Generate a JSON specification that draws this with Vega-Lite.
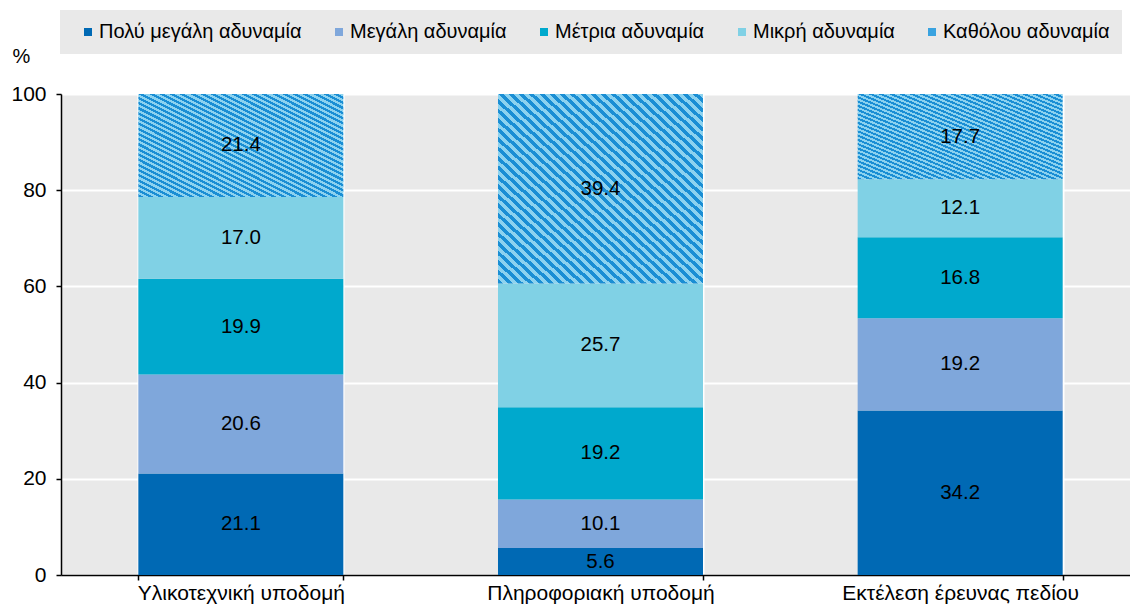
{
  "$schema": "https://vega.github.io/schema/vega-lite/v6.json",
  "autosize": "none",
  "width": 1069,
  "height": 481,
  "padding": {"left": 61, "top": 94, "right": 0, "bottom": 31},
  "background": "white",
  "config": {
    "font": "Liberation Sans",
    "view": {"fill": "#e9e9e9", "stroke": null},
    "axis": {"labelFont": "Liberation Sans", "titleFont": "Liberation Sans", "labelFontSize": 21, "labelColor": "black", "titleColor": "black", "titleFontWeight": "normal", "titleFontSize": 20},
    "legend": {"labelFont": "Liberation Sans", "labelFontSize": 20, "labelColor": "black"}
  },
  "data": {
    "values": [
      {"cat": "Υλικοτεχνική υποδομή", "level": "Πολύ μεγάλη αδυναμία", "k": 1, "value": 21.1},
      {"cat": "Υλικοτεχνική υποδομή", "level": "Μεγάλη αδυναμία", "k": 2, "value": 20.6},
      {"cat": "Υλικοτεχνική υποδομή", "level": "Μέτρια αδυναμία", "k": 3, "value": 19.9},
      {"cat": "Υλικοτεχνική υποδομή", "level": "Μικρή αδυναμία", "k": 4, "value": 17.0},
      {"cat": "Υλικοτεχνική υποδομή", "level": "Καθόλου αδυναμία", "k": 5, "value": 21.4},
      {"cat": "Πληροφοριακή υποδομή", "level": "Πολύ μεγάλη αδυναμία", "k": 1, "value": 5.6},
      {"cat": "Πληροφοριακή υποδομή", "level": "Μεγάλη αδυναμία", "k": 2, "value": 10.1},
      {"cat": "Πληροφοριακή υποδομή", "level": "Μέτρια αδυναμία", "k": 3, "value": 19.2},
      {"cat": "Πληροφοριακή υποδομή", "level": "Μικρή αδυναμία", "k": 4, "value": 25.7},
      {"cat": "Πληροφοριακή υποδομή", "level": "Καθόλου αδυναμία", "k": 5, "value": 39.4},
      {"cat": "Εκτέλεση έρευνας πεδίου", "level": "Πολύ μεγάλη αδυναμία", "k": 1, "value": 34.2},
      {"cat": "Εκτέλεση έρευνας πεδίου", "level": "Μεγάλη αδυναμία", "k": 2, "value": 19.2},
      {"cat": "Εκτέλεση έρευνας πεδίου", "level": "Μέτρια αδυναμία", "k": 3, "value": 16.8},
      {"cat": "Εκτέλεση έρευνας πεδίου", "level": "Μικρή αδυναμία", "k": 4, "value": 12.1},
      {"cat": "Εκτέλεση έρευνας πεδίου", "level": "Καθόλου αδυναμία", "k": 5, "value": 17.7}
    ]
  },
  "encoding": {
    "x": {
      "field": "cat", "type": "nominal", "sort": null,
      "scale": {"range": [0, 1079], "paddingInner": 0.43, "paddingOuter": 0.215},
      "axis": {"title": null, "labelAngle": 0, "labelLimit": 0, "tickBand": "extent", "grid": true, "gridColor": "white", "gridWidth": 2, "domainColor": "black", "domainWidth": 1.5, "tickColor": "black", "tickWidth": 1.5, "tickSize": 5, "labelPadding": 2}
    },
    "y": {
      "field": "value", "type": "quantitative", "stack": "zero",
      "scale": {"domain": [0, 100], "nice": false},
      "axis": {"values": [0, 20, 40, 60, 80, 100], "title": "%", "titleAngle": 0, "titleX": -49, "titleY": -32, "titleAlign": "left", "titleBaseline": "alphabetic", "grid": true, "gridColor": "white", "gridWidth": 2, "domainColor": "black", "domainWidth": 1.5, "tickColor": "black", "tickWidth": 1.5, "tickSize": 5, "labelPadding": 10}
    },
    "order": {"field": "k", "type": "quantitative"}
  },
  "layer": [
    {
      "mark": {"type": "bar"},
      "encoding": {
        "color": {
          "condition": {"test": "datum.level === 'Καθόλου αδυναμία'", "value": {"gradient": "linear", "x1": 0, "y1": 1, "x2": 1, "y2": 0, "stops": [
              {"offset": 0, "color": "#1a8ed4"}, {"offset": 0.0125, "color": "#1a8ed4"}, {"offset": 0.0125, "color": "#8cd2ef"}, {"offset": 0.025, "color": "#8cd2ef"},
              {"offset": 0.025, "color": "#1a8ed4"}, {"offset": 0.0375, "color": "#1a8ed4"}, {"offset": 0.0375, "color": "#8cd2ef"}, {"offset": 0.05, "color": "#8cd2ef"},
              {"offset": 0.05, "color": "#1a8ed4"}, {"offset": 0.0625, "color": "#1a8ed4"}, {"offset": 0.0625, "color": "#8cd2ef"}, {"offset": 0.075, "color": "#8cd2ef"},
              {"offset": 0.075, "color": "#1a8ed4"}, {"offset": 0.0875, "color": "#1a8ed4"}, {"offset": 0.0875, "color": "#8cd2ef"}, {"offset": 0.1, "color": "#8cd2ef"},
              {"offset": 0.1, "color": "#1a8ed4"}, {"offset": 0.1125, "color": "#1a8ed4"}, {"offset": 0.1125, "color": "#8cd2ef"}, {"offset": 0.125, "color": "#8cd2ef"},
              {"offset": 0.125, "color": "#1a8ed4"}, {"offset": 0.1375, "color": "#1a8ed4"}, {"offset": 0.1375, "color": "#8cd2ef"}, {"offset": 0.15, "color": "#8cd2ef"},
              {"offset": 0.15, "color": "#1a8ed4"}, {"offset": 0.1625, "color": "#1a8ed4"}, {"offset": 0.1625, "color": "#8cd2ef"}, {"offset": 0.175, "color": "#8cd2ef"},
              {"offset": 0.175, "color": "#1a8ed4"}, {"offset": 0.1875, "color": "#1a8ed4"}, {"offset": 0.1875, "color": "#8cd2ef"}, {"offset": 0.2, "color": "#8cd2ef"},
              {"offset": 0.2, "color": "#1a8ed4"}, {"offset": 0.2125, "color": "#1a8ed4"}, {"offset": 0.2125, "color": "#8cd2ef"}, {"offset": 0.225, "color": "#8cd2ef"},
              {"offset": 0.225, "color": "#1a8ed4"}, {"offset": 0.2375, "color": "#1a8ed4"}, {"offset": 0.2375, "color": "#8cd2ef"}, {"offset": 0.25, "color": "#8cd2ef"},
              {"offset": 0.25, "color": "#1a8ed4"}, {"offset": 0.2625, "color": "#1a8ed4"}, {"offset": 0.2625, "color": "#8cd2ef"}, {"offset": 0.275, "color": "#8cd2ef"},
              {"offset": 0.275, "color": "#1a8ed4"}, {"offset": 0.2875, "color": "#1a8ed4"}, {"offset": 0.2875, "color": "#8cd2ef"}, {"offset": 0.3, "color": "#8cd2ef"},
              {"offset": 0.3, "color": "#1a8ed4"}, {"offset": 0.3125, "color": "#1a8ed4"}, {"offset": 0.3125, "color": "#8cd2ef"}, {"offset": 0.325, "color": "#8cd2ef"},
              {"offset": 0.325, "color": "#1a8ed4"}, {"offset": 0.3375, "color": "#1a8ed4"}, {"offset": 0.3375, "color": "#8cd2ef"}, {"offset": 0.35, "color": "#8cd2ef"},
              {"offset": 0.35, "color": "#1a8ed4"}, {"offset": 0.3625, "color": "#1a8ed4"}, {"offset": 0.3625, "color": "#8cd2ef"}, {"offset": 0.375, "color": "#8cd2ef"},
              {"offset": 0.375, "color": "#1a8ed4"}, {"offset": 0.3875, "color": "#1a8ed4"}, {"offset": 0.3875, "color": "#8cd2ef"}, {"offset": 0.4, "color": "#8cd2ef"},
              {"offset": 0.4, "color": "#1a8ed4"}, {"offset": 0.4125, "color": "#1a8ed4"}, {"offset": 0.4125, "color": "#8cd2ef"}, {"offset": 0.425, "color": "#8cd2ef"},
              {"offset": 0.425, "color": "#1a8ed4"}, {"offset": 0.4375, "color": "#1a8ed4"}, {"offset": 0.4375, "color": "#8cd2ef"}, {"offset": 0.45, "color": "#8cd2ef"},
              {"offset": 0.45, "color": "#1a8ed4"}, {"offset": 0.4625, "color": "#1a8ed4"}, {"offset": 0.4625, "color": "#8cd2ef"}, {"offset": 0.475, "color": "#8cd2ef"},
              {"offset": 0.475, "color": "#1a8ed4"}, {"offset": 0.4875, "color": "#1a8ed4"}, {"offset": 0.4875, "color": "#8cd2ef"}, {"offset": 0.5, "color": "#8cd2ef"},
              {"offset": 0.5, "color": "#1a8ed4"}, {"offset": 0.5125, "color": "#1a8ed4"}, {"offset": 0.5125, "color": "#8cd2ef"}, {"offset": 0.525, "color": "#8cd2ef"},
              {"offset": 0.525, "color": "#1a8ed4"}, {"offset": 0.5375, "color": "#1a8ed4"}, {"offset": 0.5375, "color": "#8cd2ef"}, {"offset": 0.55, "color": "#8cd2ef"},
              {"offset": 0.55, "color": "#1a8ed4"}, {"offset": 0.5625, "color": "#1a8ed4"}, {"offset": 0.5625, "color": "#8cd2ef"}, {"offset": 0.575, "color": "#8cd2ef"},
              {"offset": 0.575, "color": "#1a8ed4"}, {"offset": 0.5875, "color": "#1a8ed4"}, {"offset": 0.5875, "color": "#8cd2ef"}, {"offset": 0.6, "color": "#8cd2ef"},
              {"offset": 0.6, "color": "#1a8ed4"}, {"offset": 0.6125, "color": "#1a8ed4"}, {"offset": 0.6125, "color": "#8cd2ef"}, {"offset": 0.625, "color": "#8cd2ef"},
              {"offset": 0.625, "color": "#1a8ed4"}, {"offset": 0.6375, "color": "#1a8ed4"}, {"offset": 0.6375, "color": "#8cd2ef"}, {"offset": 0.65, "color": "#8cd2ef"},
              {"offset": 0.65, "color": "#1a8ed4"}, {"offset": 0.6625, "color": "#1a8ed4"}, {"offset": 0.6625, "color": "#8cd2ef"}, {"offset": 0.675, "color": "#8cd2ef"},
              {"offset": 0.675, "color": "#1a8ed4"}, {"offset": 0.6875, "color": "#1a8ed4"}, {"offset": 0.6875, "color": "#8cd2ef"}, {"offset": 0.7, "color": "#8cd2ef"},
              {"offset": 0.7, "color": "#1a8ed4"}, {"offset": 0.7125, "color": "#1a8ed4"}, {"offset": 0.7125, "color": "#8cd2ef"}, {"offset": 0.725, "color": "#8cd2ef"},
              {"offset": 0.725, "color": "#1a8ed4"}, {"offset": 0.7375, "color": "#1a8ed4"}, {"offset": 0.7375, "color": "#8cd2ef"}, {"offset": 0.75, "color": "#8cd2ef"},
              {"offset": 0.75, "color": "#1a8ed4"}, {"offset": 0.7625, "color": "#1a8ed4"}, {"offset": 0.7625, "color": "#8cd2ef"}, {"offset": 0.775, "color": "#8cd2ef"},
              {"offset": 0.775, "color": "#1a8ed4"}, {"offset": 0.7875, "color": "#1a8ed4"}, {"offset": 0.7875, "color": "#8cd2ef"}, {"offset": 0.8, "color": "#8cd2ef"},
              {"offset": 0.8, "color": "#1a8ed4"}, {"offset": 0.8125, "color": "#1a8ed4"}, {"offset": 0.8125, "color": "#8cd2ef"}, {"offset": 0.825, "color": "#8cd2ef"},
              {"offset": 0.825, "color": "#1a8ed4"}, {"offset": 0.8375, "color": "#1a8ed4"}, {"offset": 0.8375, "color": "#8cd2ef"}, {"offset": 0.85, "color": "#8cd2ef"},
              {"offset": 0.85, "color": "#1a8ed4"}, {"offset": 0.8625, "color": "#1a8ed4"}, {"offset": 0.8625, "color": "#8cd2ef"}, {"offset": 0.875, "color": "#8cd2ef"},
              {"offset": 0.875, "color": "#1a8ed4"}, {"offset": 0.8875, "color": "#1a8ed4"}, {"offset": 0.8875, "color": "#8cd2ef"}, {"offset": 0.9, "color": "#8cd2ef"},
              {"offset": 0.9, "color": "#1a8ed4"}, {"offset": 0.9125, "color": "#1a8ed4"}, {"offset": 0.9125, "color": "#8cd2ef"}, {"offset": 0.925, "color": "#8cd2ef"},
              {"offset": 0.925, "color": "#1a8ed4"}, {"offset": 0.9375, "color": "#1a8ed4"}, {"offset": 0.9375, "color": "#8cd2ef"}, {"offset": 0.95, "color": "#8cd2ef"},
              {"offset": 0.95, "color": "#1a8ed4"}, {"offset": 0.9625, "color": "#1a8ed4"}, {"offset": 0.9625, "color": "#8cd2ef"}, {"offset": 0.975, "color": "#8cd2ef"},
              {"offset": 0.975, "color": "#1a8ed4"}, {"offset": 0.9875, "color": "#1a8ed4"}, {"offset": 0.9875, "color": "#8cd2ef"}, {"offset": 1, "color": "#8cd2ef"}
            ]}},
          "field": "level", "type": "nominal",
          "scale": {
            "domain": ["Πολύ μεγάλη αδυναμία", "Μεγάλη αδυναμία", "Μέτρια αδυναμία", "Μικρή αδυναμία", "Καθόλου αδυναμία"],
            "range": ["#0069b4", "#7fa7db", "#00a9cd", "#80d1e5", "#3aa3e0"]
          },
          "legend": {
            "title": "\u00a0", "titleOrient": "left", "titlePadding": 6, "titleFontSize": 20,
            "orient": "none", "direction": "horizontal", "legendX": -1, "legendY": -84,
            "fillColor": "#e9e9e9", "padding": 12, "symbolType": "square", "symbolSize": 64, "symbolStrokeWidth": 0,
            "labelOffset": 1, "columnPadding": 27, "labelLimit": 400
          }
        }
      }
    },
    {
      "mark": {"type": "text", "fontSize": 20.5, "font": "Liberation Sans", "color": "black"},
      "encoding": {
        "y": {"field": "value", "type": "quantitative", "stack": "zero", "bandPosition": 0.5},
        "detail": {"field": "level", "type": "nominal"},
        "text": {"field": "value", "type": "quantitative", "format": ".1f"}
      }
    }
  ]
}
